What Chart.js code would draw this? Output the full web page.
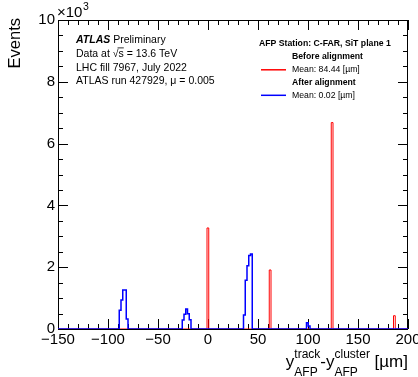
<!DOCTYPE html>
<html>
<head>
<meta charset="utf-8">
<script src="https://cdn.jsdelivr.net/npm/chart.js@4.4.1/dist/chart.umd.min.js"></script>
<style>
  body { margin: 0; background: #fff; }
  canvas { display: block; }
</style>
</head>
<body>
<canvas id="chart" width="418" height="377"></canvas>
<script>
// histogram bins (low edges in um, counts in events)
const binWidth = 1.75

const beforeEdges = [-1, 61.25, 123.25, 185.5]
const beforeCounts = [3270, 1910, 6680, 430]

const afterEdges = [
  -88.75, -87, -85.25, -83.5, -81.75,
  -25.75, -24, -22.25, -20.5, -18.75,
  35.5, 37.25, 39, 40.75, 42.5,
  98.5, 100.25
]
const afterCounts = [
  610, 940, 1260, 1260, 320,
  290, 480, 650, 490, 300,
  450, 1580, 2050, 2380, 2430,
  200, 100
]

const xTicks = [-150, -100, -50, 0, 50, 100, 150, 200]
const yTicks = [0, 2000, 4000, 6000, 8000, 10000]
const yTickLabels = ['0', '2', '4', '6', '8', '10']

const seriesNames = ['Before alignment', 'After alignment']
const seriesMeans = ['Mean: 84.44 [µm]', 'Mean: 0.02 [µm]']
const seriesColors = ['#ff0000', '#0000ff']

const FONT = "'Liberation Sans', Arial, Helvetica, sans-serif"

// turn bins into outline points for a stepped line
const toSteps = (edges, counts) => {
  const pts = [{ x: xTicks[0], y: 0 }]
  edges.forEach((e, i) => {
    pts.push({ x: e, y: counts[i] })
    const end = e + binWidth
    if (edges[i + 1] !== end) pts.push({ x: end, y: 0 })
  })
  pts.push({ x: xTicks[xTicks.length - 1], y: 0 })
  return pts
}

const framePlugin = {
  id: 'frame',
  beforeDatasetsDraw(chart) {
    const { ctx, chartArea: a, scales: { x, y } } = chart
    ctx.save()
    ctx.strokeStyle = '#000'
    ctx.lineWidth = 1
    ctx.strokeRect(a.left + 0.5, a.top + 0.5, a.right - a.left - 1, a.bottom - a.top)

    ctx.beginPath()
    const xTick = (v, len) => {
      const px = Math.round(x.getPixelForValue(v)) + 0.5
      ctx.moveTo(px, a.bottom); ctx.lineTo(px, a.bottom - len)
      ctx.moveTo(px, a.top); ctx.lineTo(px, a.top + len)
    }
    const yTick = (v, len) => {
      const py = Math.round(y.getPixelForValue(v)) + 0.5
      ctx.moveTo(a.left, py); ctx.lineTo(a.left + len, py)
      ctx.moveTo(a.right, py); ctx.lineTo(a.right - len, py)
    }
    xTicks.forEach((v, i) => {
      xTick(v, 10)
      if (i < xTicks.length - 1) {
        const step = (xTicks[i + 1] - v) / 5
        for (let k = 1; k < 5; k++) xTick(v + k * step, 5)
      }
    })
    yTicks.forEach((v, i) => {
      yTick(v, 10)
      if (i < yTicks.length - 1) {
        const step = (yTicks[i + 1] - v) / 4
        for (let k = 1; k < 4; k++) yTick(v + k * step, 5)
      }
    })
    ctx.stroke()
    ctx.restore()
  },
  afterDraw(chart) {
    const { ctx } = chart
    ctx.save()
    ctx.fillStyle = '#000'
    ctx.textBaseline = 'middle'

    // y title
    ctx.save()
    ctx.font = `16.5px ${FONT}`
    ctx.translate(20, 18)
    ctx.rotate(-Math.PI / 2)
    ctx.textAlign = 'right'
    ctx.textBaseline = 'alphabetic'
    ctx.fillText('Events', 0, 0)
    ctx.restore()

    // x10^3
    ctx.textBaseline = 'alphabetic'
    ctx.font = `15px ${FONT}`
    ctx.fillText('×10', 57, 17)
    const w10 = ctx.measureText('×10').width
    ctx.font = `10.5px ${FONT}`
    ctx.fillText('3', 57 + w10 + 0.5, 10)

    // ATLAS label block
    ctx.textBaseline = 'middle'
    let tx = 76
    ctx.font = `italic bold 10.5px ${FONT}`
    ctx.fillText('ATLAS', tx, 40)
    const wA = ctx.measureText('ATLAS ').width
    ctx.font = `10.5px ${FONT}`
    ctx.fillText('Preliminary', tx + wA, 40)
    ctx.fillText('Data at √s = 13.6 TeV', tx, 54)
    const wRoot = ctx.measureText('Data at √').width
    const wS = ctx.measureText('s').width
    ctx.fillRect(tx + wRoot - 1, 47.5, wS + 1, 0.8)
    ctx.fillText('LHC fill 7967, July 2022', tx, 68)
    ctx.fillText('ATLAS run 427929, μ = 0.005', tx, 81.5)

    // legend
    ctx.font = `bold 8.7px ${FONT}`
    ctx.fillText('AFP Station: C-FAR, SiT plane 1', 259, 44)
    const rows = [57, 82.5]
    seriesNames.forEach((name, i) => {
      ctx.font = `bold 8.7px ${FONT}`
      ctx.fillText(name, 292, rows[i])
      ctx.font = `8.7px ${FONT}`
      ctx.fillText(seriesMeans[i], 292, rows[i] + 12.8)
      ctx.strokeStyle = seriesColors[i]
      ctx.lineWidth = 1.5
      ctx.beginPath()
      ctx.moveTo(261, rows[i] + 12.8)
      ctx.lineTo(286, rows[i] + 12.8)
      ctx.stroke()
    })

    // x title: y_AFP^track - y_AFP^cluster [um]
    const big = `17px ${FONT}`
    const small = `12px ${FONT}`
    ctx.textBaseline = 'alphabetic'
    const parts = [
      ['y', big, 0], ['track', small, -9, 'AFP'],
      ['-', big, 0], ['y', big, 0], ['cluster', small, -9, 'AFP'],
      [' [µm]', big, 0]
    ]
    const widthOf = (p) => { ctx.font = p[1]; return ctx.measureText(p[0]).width }
    const total = parts.reduce((s, p) => s + widthOf(p), 0)
    let cx = 408 - total
    const base = 367
    parts.forEach(p => {
      ctx.font = p[1]
      ctx.fillText(p[0], cx, base + p[2])
      if (p[3]) ctx.fillText(p[3], cx, base + 9)
      cx += ctx.measureText(p[0]).width
    })
    ctx.restore()
  }
}

const ctx = document.getElementById('chart').getContext('2d')

new Chart(ctx, {
  type: 'line',
  data: {
    datasets: [{
      label: seriesNames[1],
      data: toSteps(afterEdges, afterCounts),
      borderColor: seriesColors[1],
      borderWidth: 1.5,
      stepped: 'before',
      pointRadius: 0,
      fill: false,
      order: 0
    }, {
      label: seriesNames[0],
      data: toSteps(beforeEdges, beforeCounts),
      borderColor: seriesColors[0],
      borderWidth: 1,
      stepped: 'before',
      pointRadius: 0,
      fill: false,
      order: 1
    }]
  },
  options: {
    responsive: false,
    animation: false,
    layout: { padding: { top: 20, right: 10, left: 0, bottom: 0 } },
    plugins: { legend: { display: false }, tooltip: { enabled: false } },
    scales: {
      x: {
        type: 'linear',
        min: xTicks[0],
        max: xTicks[xTicks.length - 1],
        grid: { display: false, drawTicks: false },
        border: { display: false },
        afterBuildTicks: s => { s.ticks = xTicks.map(v => ({ value: v })) },
        afterFit: s => { s.height = 48; s.paddingLeft = 0; s.paddingRight = 0 },
        ticks: {
          color: '#000',
          padding: 2,
          maxRotation: 0,
          autoSkip: false,
          font: { family: FONT, size: 15 },
          callback: v => String(v).replace('-', '−')
        }
      },
      y: {
        min: yTicks[0],
        max: yTicks[yTicks.length - 1],
        grid: { display: false, drawTicks: false },
        border: { display: false },
        afterBuildTicks: s => { s.ticks = yTicks.map(v => ({ value: v })) },
        afterFit: s => { s.width = 58; s.paddingTop = 0; s.paddingBottom = 0 },
        ticks: {
          color: '#000',
          padding: 3,
          autoSkip: false,
          font: { family: FONT, size: 15 },
          callback: (v, i) => yTickLabels[i]
        }
      }
    }
  },
  plugins: [framePlugin]
})
</script>
</body>
</html>
